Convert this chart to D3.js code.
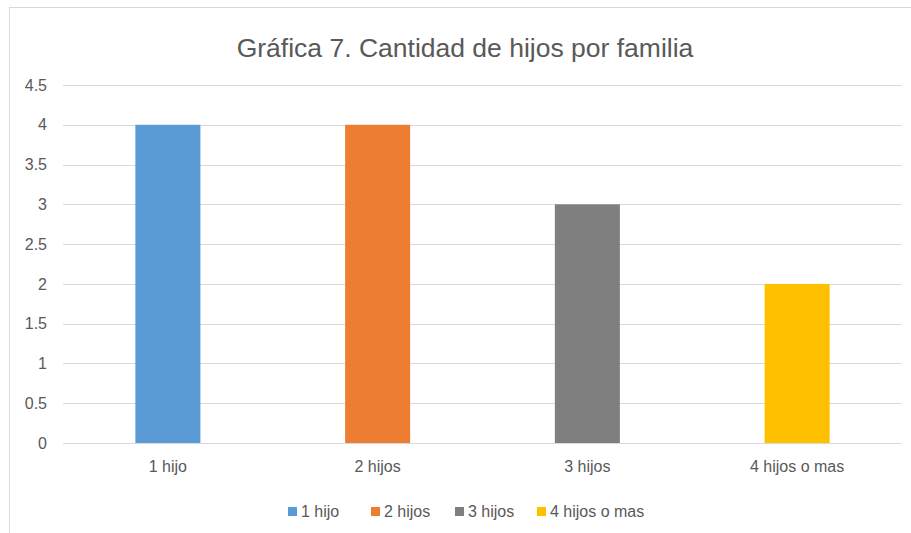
<!DOCTYPE html>
<html>
<head>
<meta charset="utf-8">
<script src="https://cdn.jsdelivr.net/npm/d3@7"></script>
<style>
  body { margin:0; background:#fff; }
  text { font-family: "Liberation Sans", Arial, sans-serif; fill:#595959; }
</style>
</head>
<body>
<div id="chart"></div>
<script>
const categories = ["1 hijo", "2 hijos", "3 hijos", "4 hijos o mas"];
const values = [4, 4, 3, 2];
const colors = ["#5B9BD5", "#ED7D31", "#7F7F7F", "#FFC000"];
const yTicks = [0, 0.5, 1, 1.5, 2, 2.5, 3, 3.5, 4, 4.5];

const W = 911, H = 533;
const margin = {top:85, right:9, bottom:90, left:63},
    width = W - margin.left - margin.right,
    height = H - margin.top - margin.bottom;

const root = d3.select("#chart").append("svg")
    .attr("width", W).attr("height", H);

// chart frame
root.append("rect")
    .attr("x", 9.5).attr("y", 7.5)
    .attr("width", W + 10).attr("height", H + 10)
    .attr("fill", "#fff").attr("stroke", "#d9d9d9").attr("stroke-width", 1);

root.append("text")
    .attr("x", 465).attr("y", 57)
    .attr("text-anchor", "middle")
    .style("font-size", "26.5px")
    .text("Gráfica 7. Cantidad de hijos por familia");

const svg = root.append("g")
    .attr("transform", "translate(" + margin.left + "," + margin.top + ")");

var x = d3.scaleBand()
    .domain(categories)
    .range([0, width])
    .paddingInner(0.69)
    .paddingOuter(0.345);

var y = d3.scaleLinear()
    .domain([0, 4.5])
    .range([height, 0]);

// gridlines
svg.append("g")
    .selectAll("line")
    .data(yTicks)
    .enter()
    .append("line")
    .attr("x1", 0).attr("x2", width)
    .attr("y1", d => Math.round(y(d)) + 0.5)
    .attr("y2", d => Math.round(y(d)) + 0.5)
    .attr("stroke", "#d9d9d9");

// y labels
var yAxis = svg.append("g")
    .call(d3.axisLeft(y).tickValues(yTicks).tickSize(0).tickPadding(16).tickFormat(d3.format("")));
yAxis.select(".domain").remove();
yAxis.selectAll("text").style("font-size", "16px").attr("fill", "#595959");

// bars
svg.append("g")
    .selectAll("rect")
    .data(values)
    .enter()
    .append("rect")
    .attr("x", (d, i) => x(categories[i]))
    .attr("y", d => y(d))
    .attr("width", x.bandwidth())
    .attr("height", d => height - y(d))
    .attr("fill", (d, i) => colors[i]);

// x labels
var xAxis = svg.append("g")
    .attr("transform", "translate(0," + height + ")")
    .call(d3.axisBottom(x).tickSize(0).tickPadding(18));
xAxis.select(".domain").remove();
xAxis.selectAll("text").style("font-size", "16px").attr("fill", "#595959");

// legend
const legendX = [288, 371, 455, 537];
var legend = root.append("g")
    .selectAll("g")
    .data(categories)
    .enter()
    .append("g")
    .attr("transform", (d, i) => "translate(" + legendX[i] + ",507)");
legend.append("rect")
    .attr("width", 9).attr("height", 9)
    .attr("fill", (d, i) => colors[i]);
legend.append("text")
    .attr("x", 13).attr("y", 9.5)
    .style("font-size", "16px")
    .text(d => d);
</script>
</body>
</html>
